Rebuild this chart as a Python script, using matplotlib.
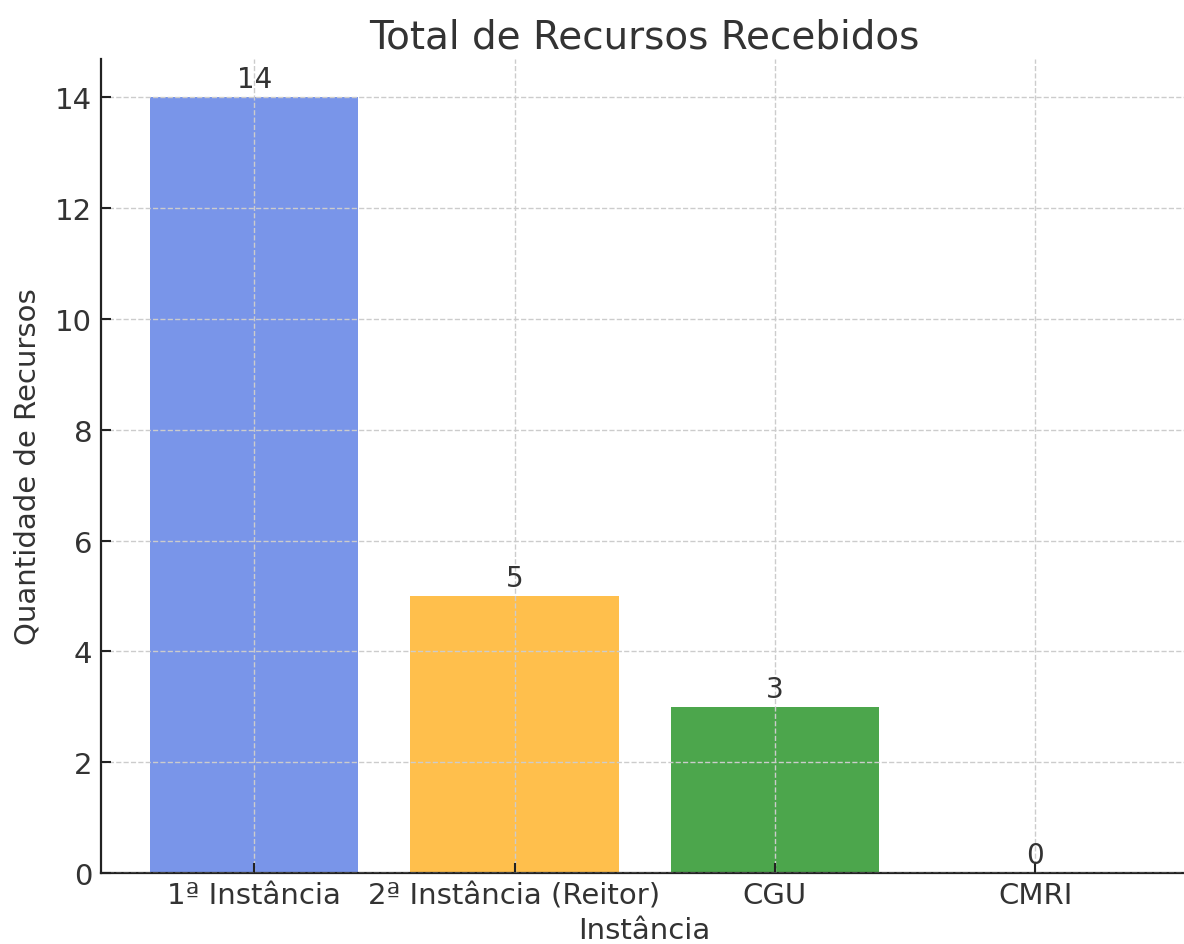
import matplotlib.pyplot as plt

# Data
categorias = ['1ª Instância', '2ª Instância (Reitor)', 'CGU', 'CMRI']
recursos = [14, 5, 3, 0]
cores = ['royalblue', 'orange', 'green', 'red']

plt.rcParams['text.color'] = '#333333'
plt.rcParams['axes.labelcolor'] = '#333333'
plt.rcParams['xtick.color'] = '#222222'
plt.rcParams['ytick.color'] = '#222222'
plt.rcParams['xtick.labelcolor'] = '#333333'
plt.rcParams['ytick.labelcolor'] = '#333333'

fig, ax = plt.subplots(figsize=(11.84, 9.45), dpi=100)

bars = ax.bar(categorias, recursos, color=cores, alpha=0.7)

# value labels on top of bars
for bar, v in zip(bars, recursos):
    ax.annotate(str(v), (bar.get_x() + bar.get_width() / 2, v),
                xytext=(0, 3), textcoords='offset points',
                ha='center', va='bottom', fontsize=20)

ax.set_title('Total de Recursos Recebidos', fontsize=28, pad=8)
ax.set_xlabel('Instância', fontsize=21, labelpad=5)
ax.set_ylabel('Quantidade de Recursos', fontsize=21, labelpad=10)
ax.tick_params(labelsize=21, length=7, width=1.5, direction='in', pad=6)
ax.set_yticks(range(0, 15, 2))
ax.set_ylim(0, 14.7)

ax.grid(True, linestyle='--', color='#cccccc', linewidth=1.0)
ax.set_axisbelow(False)
ax.spines['top'].set_visible(False)
ax.spines['right'].set_visible(False)
for s in ('left', 'bottom'):
    ax.spines[s].set_linewidth(1.6)
    ax.spines[s].set_color('#222222')

fig.subplots_adjust(left=0.085, right=1.004, top=0.937, bottom=0.075)
fig.savefig('out.png')
